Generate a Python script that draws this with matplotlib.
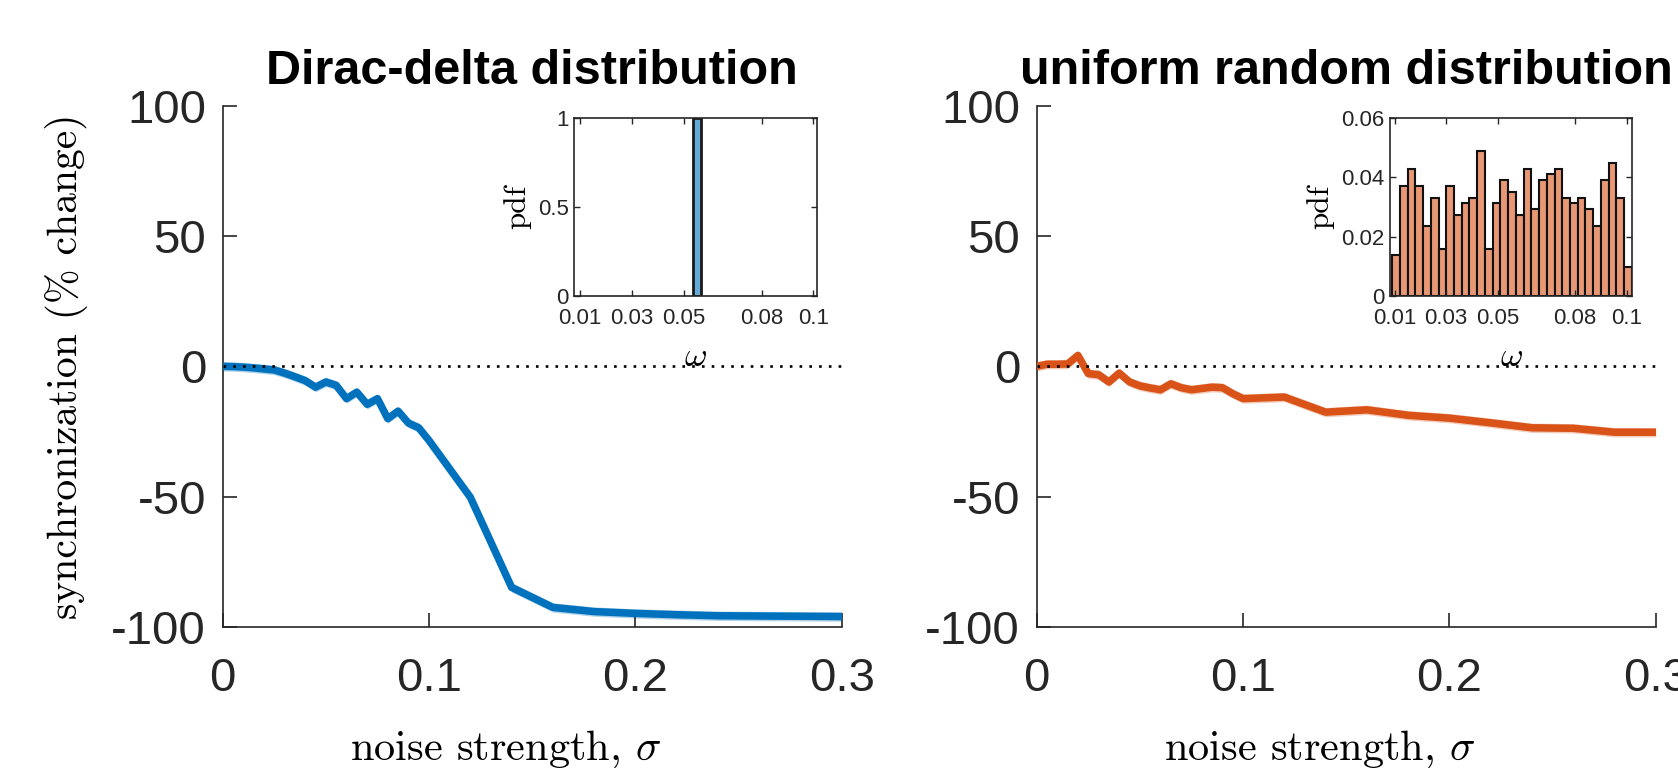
import numpy as np
import matplotlib
matplotlib.use("Agg")
import matplotlib.pyplot as plt

plt.rcParams["font.family"] = ["Liberation Sans", "DejaVu Sans"]
plt.rcParams["mathtext.fontset"] = "cm"

# noise strength grid
sigma = [0.000, 0.005, 0.010, 0.015, 0.020, 0.025, 0.030, 0.035, 0.040, 0.045,
         0.050, 0.055, 0.060, 0.065, 0.070, 0.075, 0.080, 0.085, 0.090, 0.095,
         0.100, 0.12, 0.14, 0.16, 0.18, 0.20, 0.22, 0.24, 0.26, 0.28, 0.30]

# % change in synchronization
sync_delta = [0.0, -0.1, -0.3, -0.6, -1.0, -1.4, -2.6, -4.0, -5.5, -8.0,
              -6.0, -7.3, -12.4, -9.9, -14.6, -12.4, -20.1, -17.2, -21.8, -23.6,
              -28.5, -50.3, -84.9, -92.6, -94.2, -94.9, -95.4, -95.8, -95.9, -96.0, -96.1]
sync_uniform = [0.0, 0.8, 0.8, 0.9, 4.2, -2.8, -3.2, -6.0, -2.6, -6.0,
                -7.5, -8.3, -9.0, -6.7, -8.2, -9.0, -8.5, -8.0, -8.2, -10.5,
                -12.4, -11.8, -17.6, -16.7, -18.8, -19.9, -21.7, -23.6, -23.8, -25.3, -25.3]
band = 1.8  # half width of the shaded band

# inset histograms
delta_omega = [0.0551]
delta_pdf = [1.0]
n_osc = 512
bin_start, bin_w = 0.009, 0.003
uniform_counts = [7, 19, 22, 19, 12, 17, 8, 19, 14, 16, 17, 25, 8, 16, 20, 18,
                  14, 22, 15, 20, 21, 22, 17, 16, 17, 15, 12, 20, 23, 17, 5]

main_xticks = [0, 0.1, 0.2, 0.3]
main_xlabels = ["0", "0.1", "0.2", "0.3"]
main_yticks = [-100, -50, 0, 50, 100]
main_ylabels = ["-100", "-50", "0", "50", "100"]
in_xticks = [0.01, 0.03, 0.05, 0.08, 0.1]
in_xlabels = ["0.01", "0.03", "0.05", "0.08", "0.1"]

BLUE = "#0072BD"
ORANGE = "#D95319"
AX_COL = "#262626"

fig = plt.figure(figsize=(16.78, 7.68), dpi=100)


def main_axes(rect, y, col, title):
    ax = fig.add_axes(rect)
    y = np.array(y)
    ax.fill_between(sigma, y - band, y + band, color=col, alpha=0.3, lw=0)
    ax.plot(sigma, y, color=col, lw=5.4, solid_joinstyle="round", zorder=3)
    ax.plot([0, 0.3], [0, 0], color="black", lw=1.9, ls=(0, (1, 2.7)), zorder=4)
    ax.set_xlim(0, 0.3)
    ax.set_ylim(-100, 100)
    ax.set_xticks(main_xticks, main_xlabels)
    ax.set_yticks(main_yticks, main_ylabels)
    ax.spines[["top", "right"]].set_visible(False)
    for s in ax.spines.values():
        s.set_color(AX_COL)
        s.set_linewidth(1.2)
    ax.tick_params(direction="in", length=10, width=1.2, color=AX_COL,
                   labelcolor=AX_COL, labelsize=34)
    ax.tick_params(axis="x", pad=22)
    ax.tick_params(axis="y", pad=12)
    ax.set_title(title, fontsize=35, fontweight="bold", pad=16)
    ax.set_xlabel(r"noise strength, $\sigma$", fontfamily="cmr10", fontsize=30.5)
    ax.xaxis.set_label_coords(0.457, -0.195)
    return ax


def inset_axes(rect, xlim, ylim, yticks, ylabels):
    ax = fig.add_axes(rect)
    ax.set_xlim(*xlim)
    ax.set_ylim(*ylim)
    ax.set_xticks(in_xticks, in_xlabels)
    ax.set_yticks(yticks, ylabels)
    for s in ax.spines.values():
        s.set_color(AX_COL)
        s.set_linewidth(1.2)
    ax.tick_params(direction="in", length=4, width=1, color=AX_COL,
                   labelcolor=AX_COL, labelsize=16, top=True, right=True)
    ax.tick_params(axis="x", pad=9)
    ax.tick_params(axis="y", pad=4)
    ax.set_ylabel("pdf", fontfamily="cmr10", fontsize=22.5, labelpad=5)
    ax.set_xlabel(r"$\omega$", fontsize=25)
    ax.xaxis.set_label_coords(0.5, -0.25)
    return ax


ax1 = main_axes([0.1327, 0.184, 0.369, 0.678], sync_delta, BLUE,
                "Dirac-delta distribution")
ax1.set_ylabel("synchronization (% change)", fontfamily="cmr10", fontsize=30)
ax1.yaxis.set_label_coords(-0.217, 0.5)
ax2 = main_axes([0.6178, 0.184, 0.369, 0.678], sync_uniform, ORANGE,
                "uniform random distribution")

in1 = inset_axes([0.3423, 0.615, 0.1445, 0.231], (0.0078, 0.1013), (0, 1),
                 [0, 0.5, 1], ["0", "0.5", "1"])
in1.bar(delta_omega, delta_pdf, width=bin_w, color="#66AAD7",
        edgecolor="#1a1a1a", lw=2)

edges = bin_start + bin_w * np.arange(len(uniform_counts))
pdf = np.array(uniform_counts) / n_osc
in2 = inset_axes([0.8284, 0.615, 0.1444, 0.231], (0.0082, 0.1022), (0, 0.06),
                 [0, 0.02, 0.04, 0.06], ["0", "0.02", "0.04", "0.06"])
in2.bar(edges, pdf, width=bin_w, align="edge", color="#E89875",
        edgecolor="#111111", lw=1.5)

fig.savefig("out.png", dpi=100)
